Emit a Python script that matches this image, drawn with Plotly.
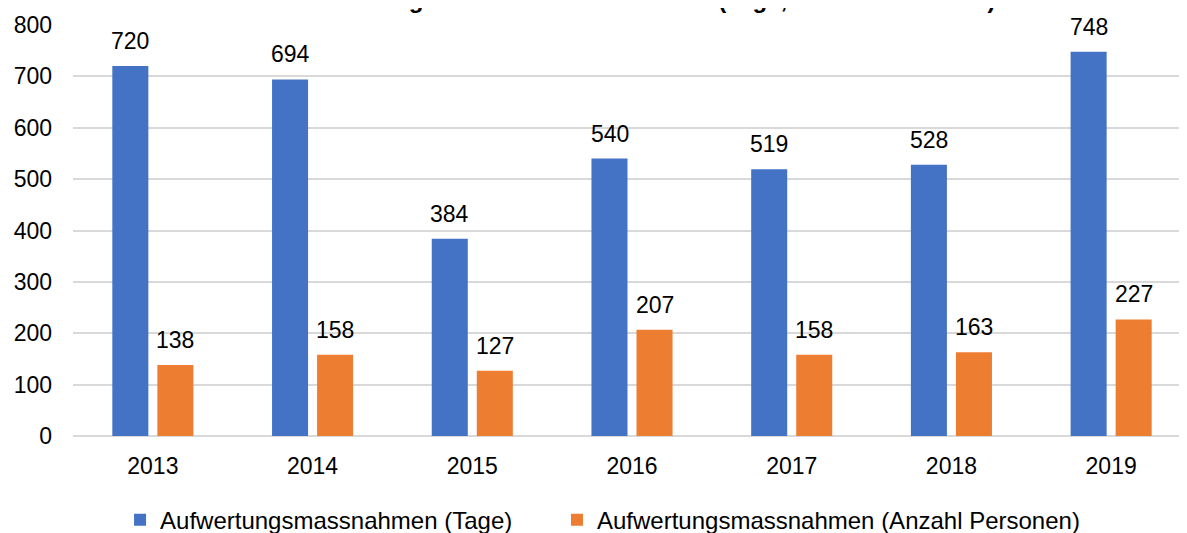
import plotly.graph_objects as go

years = ['2013', '2014', '2015', '2016', '2017', '2018', '2019']
tage = [720, 694, 384, 540, 519, 528, 748]
personen = [138, 158, 127, 207, 158, 163, 227]

COLORS = {'blue': '#4472C4', 'orange': '#ED7D31', 'grid': '#D9D9D9', 'text': '#000000'}
FONT = 'Liberation Sans, Arial, sans-serif'

fig = go.Figure()
fig.add_trace(go.Bar(
    x=years, y=tage, name='Aufwertungsmassnahmen (Tage)',
    marker=dict(color=COLORS['blue'], line=dict(width=0)),
    legend='legend', showlegend=True,
))
fig.add_trace(go.Bar(
    x=years, y=personen, name='Aufwertungsmassnahmen (Anzahl Personen)',
    marker=dict(color=COLORS['orange'], line=dict(width=0)),
    legend='legend2', showlegend=True,
))

# value labels above the bars (x given as category index)
annotations = []
for values, shift in ((tage, -22.5), (personen, 22.5)):
    for i, v in enumerate(values):
        annotations.append(dict(
            x=i, y=v, text=str(v), showarrow=False,
            xshift=shift, yshift=25, yanchor='middle',
            font=dict(size=23, color=COLORS['text'], family=FONT),
        ))

# chart title, mostly cut off at the top edge as in the source image
annotations.append(dict(
    text='<b>Aufwertungsmassnahmen 2013-2019 (Tage, Anzahl Personen)</b>',
    xref='paper', yref='paper', x=0.51, y=1, xanchor='center', yanchor='bottom',
    yshift=10, showarrow=False,
    font=dict(size=24, color=COLORS['text'], family=FONT),
))

legend_style = dict(
    orientation='h', xanchor='left', xref='container',
    yref='container', y=0.039, yanchor='middle',
    font=dict(size=24), itemwidth=30,
)

fig.update_layout(
    width=1187, height=533,
    margin=dict(l=65, r=4, t=17, b=105, autoexpand=False),
    paper_bgcolor='white', plot_bgcolor='white',
    font=dict(family=FONT, size=23, color=COLORS['text']),
    showlegend=True,
    barmode='group', bargap=0.436, bargroupgap=0.2,
    xaxis=dict(
        type='category', range=[-0.5, 6.5], showgrid=False, automargin=False,
        ticks='', tickfont=dict(size=23), ticklabelstandoff=14,
    ),
    yaxis=dict(
        range=[0, 800], dtick=100, gridcolor=COLORS['grid'], gridwidth=1.5,
        zeroline=True, zerolinecolor=COLORS['grid'], zerolinewidth=1.5,
        automargin=False,
        ticks='', tickfont=dict(size=23), ticklabelstandoff=20,
    ),
    legend=dict(x=0.0944, **legend_style),
    legend2=dict(x=0.4625, **legend_style),
    annotations=annotations,
)

fig.write_html('out.html')
